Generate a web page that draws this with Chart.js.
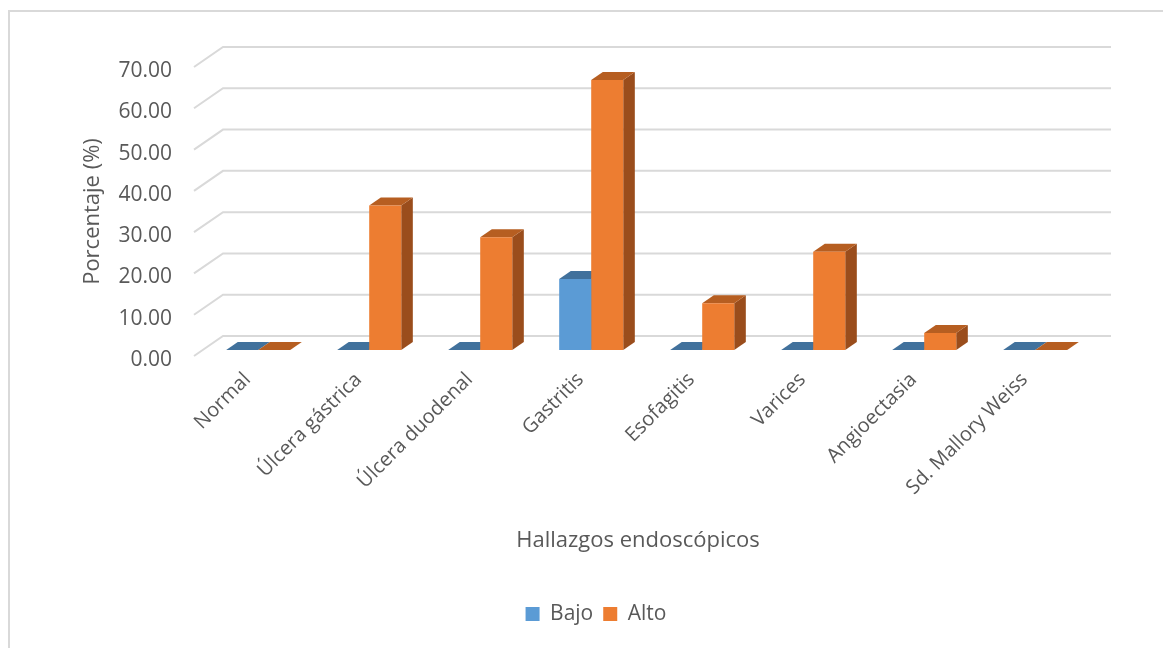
<!DOCTYPE html>
<html lang="es">
<head>
<meta charset="utf-8">
<title>Hallazgos endoscópicos</title>
<script src="https://cdn.jsdelivr.net/npm/chart.js@4.4.1/dist/chart.umd.min.js"></script>
<style>
  html, body { margin: 0; padding: 0; background: #FFFFFF; }
  #grafico { display: block; }
</style>
</head>
<body>
<canvas id="grafico" width="1163" height="648"></canvas>
<script>
// -------------------------
// Datos
// -------------------------
const categorias = [
  "Normal", "Úlcera gástrica", "Úlcera duodenal", "Gastritis",
  "Esofagitis", "Varices", "Angioectasia", "Sd. Mallory Weiss"
];
const valoresBajo = [0, 0, 0, 17.2, 0, 0, 0, 0];
const valoresAlto = [0, 35.0, 27.3, 65.4, 11.3, 23.8, 4.1, 0];
const ejeYMin = 0;
const ejeYMax = 70;
const ejeYPaso = 10;

// -------------------------
// Estilo
// -------------------------
const colorTexto = "#595959";
const colorGrid = "#D9D9D9";
const fuente = "'Open Sans', 'Noto Sans', sans-serif";

// colores de cada serie: frente, tapa, lado
const coresBajo = { frente: "#5B9BD5", tapa: "#41719C", lado: "#3A6690" };
const coresAlto = { frente: "#ED7D31", tapa: "#B65E21", lado: "#9A4D1C" };

// vector de profundidad del "3D" (pared del fondo respecto al plano frontal)
const PROF = { dx: 29, dy: -20 };
const FRENTE = 0.3; // profundidad del frente de las barras
const FONDO = 0.7;  // profundidad del fondo de las barras

const plugin3d = {
  id: "barras3d",
  beforeDraw(chart) {
    // marco del gráfico
    const ctx = chart.ctx;
    ctx.save();
    ctx.strokeStyle = colorGrid;
    ctx.lineWidth = 2;
    ctx.beginPath();
    ctx.moveTo(9, chart.height);
    ctx.lineTo(9, 11);
    ctx.lineTo(chart.width, 11);
    ctx.stroke();
    ctx.restore();
  },
  beforeDatasetsDraw(chart) {
    const { ctx, chartArea } = chart;
    const escY = chart.scales.y;

    // lineas de division (diagonal + pared del fondo)
    ctx.save();
    ctx.strokeStyle = colorGrid;
    ctx.lineWidth = 2;
    escY.ticks.forEach(t => {
      const py = escY.getPixelForValue(t.value);
      ctx.beginPath();
      ctx.moveTo(chartArea.left, py);
      ctx.lineTo(chartArea.left + PROF.dx, py + PROF.dy);
      ctx.lineTo(chartArea.right + PROF.dx, py + PROF.dy);
      ctx.stroke();
    });
    ctx.restore();

    // tapas y lados de las barras (detras del frente)
    ctx.save();
    ctx.translate(PROF.dx * FRENTE, PROF.dy * FRENTE);
    const ddx = PROF.dx * (FONDO - FRENTE);
    const ddy = PROF.dy * (FONDO - FRENTE);
    chart.data.datasets.forEach((ds, di) => {
      const cores = ds.cores3d;
      chart.getDatasetMeta(di).data.forEach(barra => {
        const { x, y, base, width } = barra.getProps(["x", "y", "base", "width"], true);
        const izq = x - width / 2;
        const der = x + width / 2;
        const arriba = Math.min(y, base);

        // lado derecho
        if (base - arriba > 0.5) {
          ctx.fillStyle = cores.lado;
          ctx.beginPath();
          ctx.moveTo(der, arriba);
          ctx.lineTo(der + ddx, arriba + ddy);
          ctx.lineTo(der + ddx, base + ddy);
          ctx.lineTo(der, base);
          ctx.closePath();
          ctx.fill();
        }

        // tapa
        ctx.fillStyle = cores.tapa;
        ctx.beginPath();
        ctx.moveTo(izq, arriba);
        ctx.lineTo(der, arriba);
        ctx.lineTo(der + ddx, arriba + ddy);
        ctx.lineTo(izq + ddx, arriba + ddy);
        ctx.closePath();
        ctx.fill();
      });
    });
    // el frente (dibujado por Chart.js) queda con la misma traslacion
  },
  afterDatasetsDraw(chart) {
    chart.ctx.restore();
  }
};

document.addEventListener("DOMContentLoaded", () => {
  const ctx = document.getElementById("grafico").getContext("2d");

  new Chart(ctx, {
    type: "bar",
    data: {
      labels: categorias,
      datasets: [
        {
          label: "Bajo",
          data: valoresBajo,
          backgroundColor: coresBajo.frente,
          borderWidth: 0,
          cores3d: coresBajo
        },
        {
          label: "Alto",
          data: valoresAlto,
          backgroundColor: coresAlto.frente,
          borderWidth: 0,
          cores3d: coresAlto
        }
      ]
    },
    options: {
      responsive: false,
      animation: false,
      devicePixelRatio: 1,
      categoryPercentage: 0.577,
      barPercentage: 1.0,
      layout: {
        padding: { top: 67, right: 81, bottom: 13.5, left: 110 }
      },
      plugins: {
        legend: {
          position: "bottom",
          labels: {
            color: colorTexto,
            font: { size: 21, family: fuente },
            boxWidth: 14,
            boxHeight: 14,
            padding: 10
          }
        },
        tooltip: { enabled: false }
      },
      scales: {
        x: {
          grid: { display: false, drawTicks: false },
          border: { display: false },
          ticks: {
            color: colorTexto,
            font: { size: 20, family: fuente },
            minRotation: 45,
            maxRotation: 45,
            autoSkip: false,
            padding: 12,
            labelOffset: -2
          },
          title: {
            display: true,
            text: "Hallazgos endoscópicos",
            color: colorTexto,
            font: { size: 22, family: fuente },
            padding: { top: 0, bottom: 40 }
          },
          afterFit(escala) {
            escala.height = 237.5;
          }
        },
        y: {
          min: ejeYMin,
          max: ejeYMax,
          grid: { display: false, drawTicks: false },
          border: { display: false },
          ticks: {
            stepSize: ejeYPaso,
            color: colorTexto,
            font: { size: 21, family: fuente },
            padding: 22,
            labelOffset: 4,
            callback: v => Number(v).toFixed(2)
          },
          title: {
            display: true,
            text: "Porcentaje (%)",
            color: colorTexto,
            font: { size: 22, family: fuente },
            padding: { top: -30, bottom: 0 }
          },
          afterFit(escala) {
            escala.width = 84;
          }
        }
      }
    },
    plugins: [plugin3d]
  });
});
</script>
</body>
</html>
